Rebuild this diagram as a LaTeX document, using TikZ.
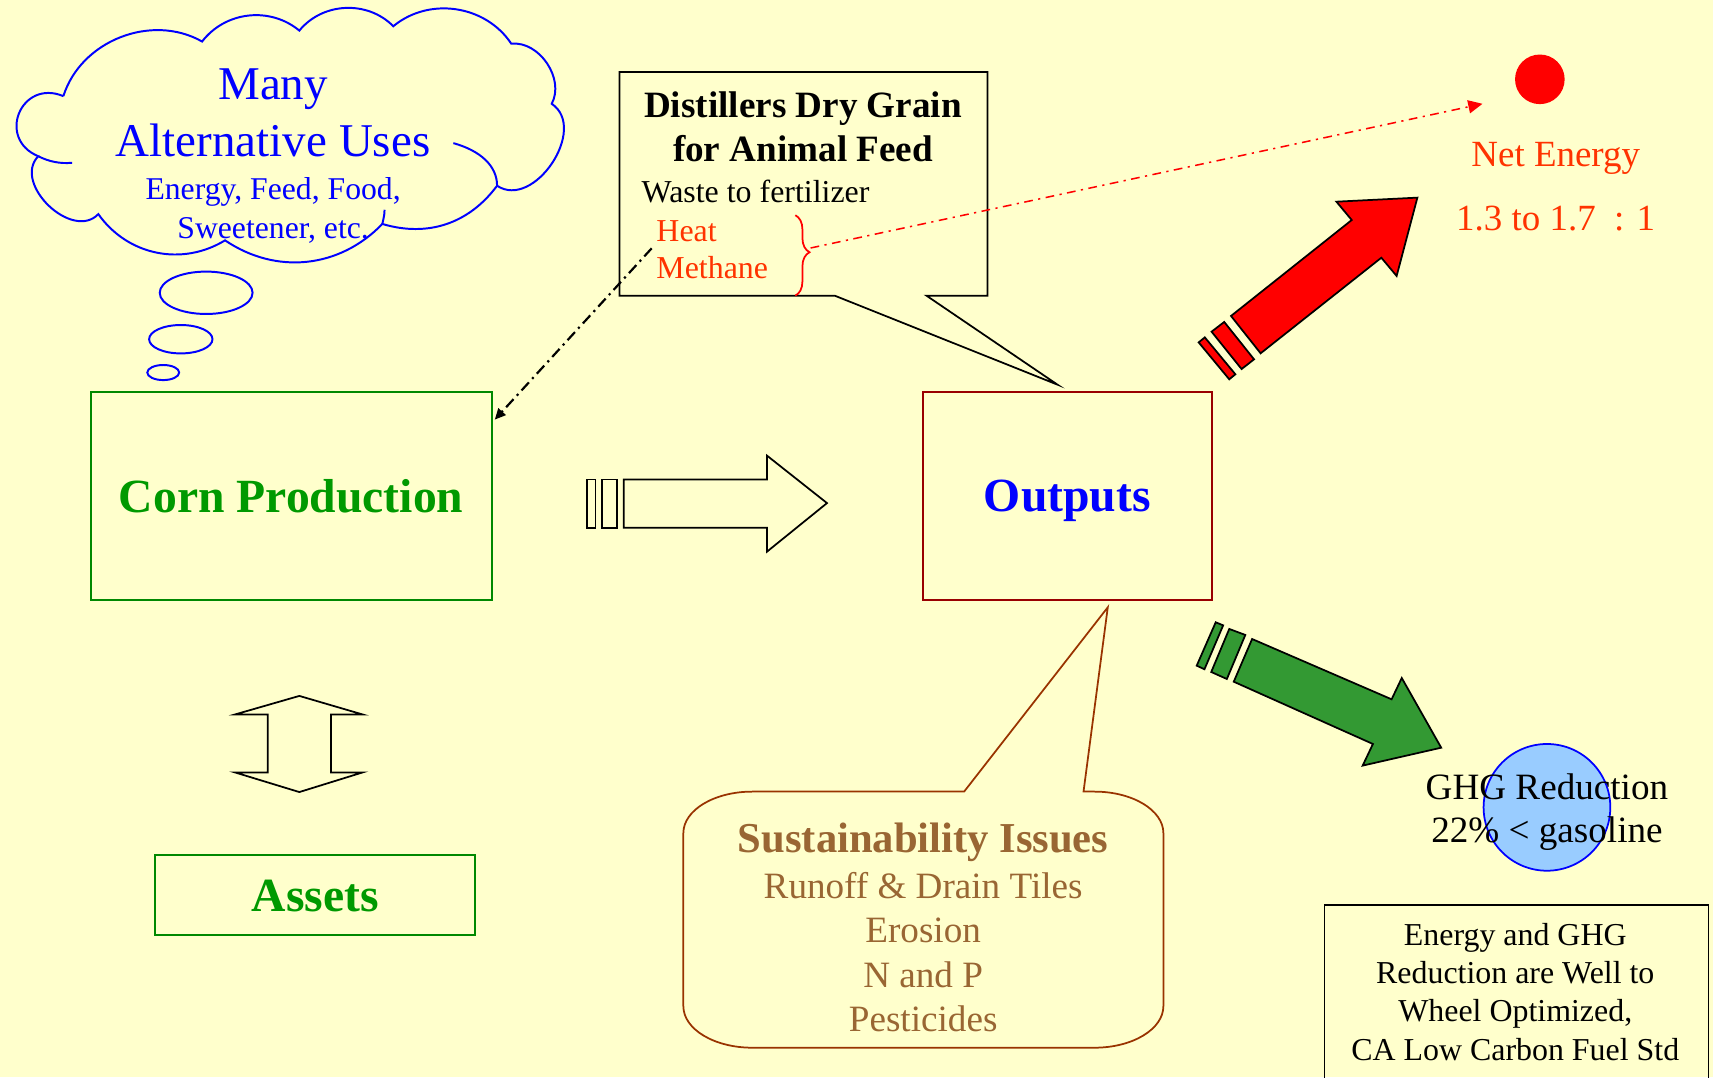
\documentclass[tikz,border=0pt]{standalone}
\usepackage{fontspec}
\setmainfont{Liberation Serif}
\usetikzlibrary{arrows.meta,decorations.pathreplacing}
\definecolor{bg}{HTML}{FFFFCC}
\definecolor{cgreen}{HTML}{009900}
\definecolor{boxgreen}{HTML}{008800}
\definecolor{outred}{HTML}{990000}
\definecolor{orred}{HTML}{FF3300}
\definecolor{arrgreen}{HTML}{339933}
\definecolor{lblue}{HTML}{99CCFF}
\definecolor{sborder}{HTML}{993300}
\definecolor{stext}{HTML}{996633}
\tikzset{
  cloudline/.style={draw=blue, line width=0.9pt},
  txt/.style={inner sep=0pt, anchor=base},
  cloudbig/.style={txt, text=blue, font=\fontsize{21.5}{25}\selectfont},
  cloudsmall/.style={txt, text=blue, font=\fontsize{14.5}{17}\selectfont},
  mainbox/.style={draw, line width=0.9pt, inner sep=0pt, text depth=0pt, font=\fontsize{21.8}{26}\selectfont\bfseries},
  ddgbold/.style={txt, font=\fontsize{17}{20}\selectfont\bfseries},
  ddgtext/.style={txt, anchor=base west, font=\fontsize{14.6}{17}\selectfont},
  netxt/.style={txt, text=orred, font=\fontsize{16.9}{20}\selectfont},
  ghgtxt/.style={txt, font=\fontsize{17}{20}\selectfont},
  wtwtxt/.style={txt, font=\fontsize{14.6}{17}\selectfont},
  susbold/.style={txt, text=stext, font=\fontsize{19.5}{23}\selectfont\bfseries},
  sustxt/.style={txt, text=stext, font=\fontsize{17}{20}\selectfont},
  blockarrow/.style={draw=black, line width=0.8pt, line join=miter},
  dashdotblack/.style={black, line width=1pt, dash pattern=on 5pt off 2.2pt on 1pt off 2.2pt, -{Triangle[length=5pt,width=4.5pt]}},
  dashdotred/.style={red, line width=0.7pt, dash pattern=on 4pt off 2.5pt on 1pt off 2.5pt, -{Triangle[length=6.5pt,width=6pt]}}
}
\begin{document}
\begin{tikzpicture}[x=0.5pt,y=-0.5pt]
\path[use as bounding box, fill=bg] (0,0) rectangle (1568,986);

% ---------- cloud ----------
\draw[cloudline] (58,88) to[bend left=51] (185,38) to[bend left=46] (274,28)
  to[bend left=48] (360,24) to[bend left=48] (468,40) to[bend left=62] (505,95)
  to[bend left=90,looseness=1.15] (455,170) to[bend left=35] (350,205)
  to[bend left=40] (206,220) to[bend left=43] (90,196)
  to[bend left=90,looseness=1.16] (35,143) to[bend left=90,looseness=1.8] (58,88);
\draw[cloudline] (415,131) .. controls (440,138) and (455,152) .. (455,170);
\draw[cloudline] (35,143) .. controls (45,148) and (55,150) .. (66,149);
\draw[cloudline] (350,205) .. controls (351,200) and (352,197) .. (352,192);
\draw[cloudline] (188.7,268) ellipse [x radius=42.5, y radius=19.4];
\draw[cloudline] (165.5,310.5) ellipse [x radius=29, y radius=13];
\draw[cloudline] (149.4,341) ellipse [x radius=14.6, y radius=6.9];

\node[cloudbig] (many) at (250,91) {Many};
\node[cloudbig] (altuses) at (250,143) {Alternative Uses};
\node[cloudsmall] (efood) at (250,183) {Energy, Feed, Food,};
\node[cloudsmall] (sweet) at (250,218) {Sweetener, etc.};

% ---------- main boxes ----------
\node[mainbox, draw=boxgreen, text=cgreen, minimum width=183.5pt, minimum height=95pt] (corn) at (266.5,454) {Corn Production};
\node[mainbox, draw=outred, text=blue, minimum width=132pt, minimum height=95pt] (outputs) at (977,454) {Outputs};
\node[mainbox, draw=boxgreen, text=cgreen, minimum width=146.5pt, minimum height=36.5pt] (assets) at (288.5,819.5) {Assets};

% ---------- hollow arrow corn -> outputs ----------
\draw[blockarrow] (537,439) rectangle (545,483);
\draw[blockarrow] (551,439) rectangle (565,483);
\draw[blockarrow] (571,439) -- (702,439) -- (702,417) -- (757,460.5) -- (702,505) -- (702,483) -- (571,483) -- cycle;

% ---------- vertical double arrow ----------
\draw[blockarrow] (274,637) -- (332,654) -- (303,654) -- (303,707) -- (332,707) -- (274,725)
  -- (215,707) -- (245,707) -- (245,654) -- (215,654) -- cycle;

% ---------- Distillers callout ----------
\coordinate (dtip) at ([xshift=-4.5pt,yshift=3pt]outputs.north);
\draw[line width=0.8pt, line join=miter] (567,66) -- (904,66) -- (904,270.6) -- (848,270.6) -- (dtip) -- (764,270.6) -- (567,270.6) -- cycle;
\node[ddgbold] (ddg1) at (735,108) {Distillers Dry Grain};
\node[ddgbold] (ddg2) at (735,148) {for Animal Feed};
\node[ddgtext] (waste) at (587,185) {Waste to fertilizer};
\node[ddgtext, text=orred] (heat) at (600.5,221) {Heat};
\node[ddgtext, text=orred] (methane) at (600.5,255) {Methane};
\draw[red, line width=0.8pt, decorate, decoration={brace, amplitude=6.5pt, aspect=0.46}] (728,197) -- (728,270.6);
\coordinate (bracetip) at (742,227);
\coordinate (dstart) at (596.5,227.3);
\draw[dashdotblack] (dstart) -- ([xshift=1pt,yshift=-13pt]corn.north east);

% ---------- Net energy ----------
\node[circle, fill=red, minimum size=22.7pt, inner sep=0pt] (dot) at (1409.5,72.6) {};
\coordinate (netarrow) at (1357,95);
\draw[dashdotred] (bracetip) -- (netarrow);
\node[netxt] (netenergy) at (1424,152) {Net Energy};
\node[netxt] (ratio) at (1424,211) {1.3 to 1.7\ \ : 1};

% red arrow
\draw[blockarrow, fill=red] (1126.8,289.2) -- (1237.3,201.4) -- (1223.3,184.6) -- (1297.4,180.9) -- (1278.4,252.6) -- (1264.4,235.9) -- (1153.9,323.4) -- cycle;
\draw[blockarrow, fill=red] (1109.0,303.6) -- (1120.6,294.7) -- (1147.9,328.9) -- (1136.5,337.8) -- cycle;
\draw[blockarrow, fill=red] (1097.2,313.4) -- (1102.8,308.8) -- (1130.8,342.6) -- (1125.2,347.2) -- cycle;

% green arrow
\draw[blockarrow, fill=arrgreen] (1146.1,584.9) -- (1273.8,640.1) -- (1283.1,620.6) -- (1319.2,684.4) -- (1247.3,700.8) -- (1256.7,681.0) -- (1129.3,624.0) -- cycle;
\draw[blockarrow, fill=arrgreen] (1125.2,575.7) -- (1139.9,581.2) -- (1123.0,621.5) -- (1108.7,615.1) -- cycle;
\draw[blockarrow, fill=arrgreen] (1112.8,569.6) -- (1119.6,572.4) -- (1102.5,612.6) -- (1095.4,609.3) -- cycle;

% ---------- GHG ----------
\node[circle, draw=blue, fill=lblue, line width=0.8pt, minimum size=58pt, inner sep=0pt] (ghgcircle) at (1416,739) {};
\node[ghgtxt] (ghg1) at (1416,732) {GHG Reduction};
\node[ghgtxt] (ghg2) at (1416,771) {22\% < gasoline};

\node[draw, line width=0.8pt, anchor=north west, minimum width=175.75pt, minimum height=95pt, inner sep=0pt] (wtwbox) at (1211.5,827.5) {};
\node[wtwtxt] (wtw1) at (1387,865) {Energy and GHG};
\node[wtwtxt] (wtw2) at (1387,900) {Reduction are Well to};
\node[wtwtxt] (wtw3) at (1387,935) {Wheel Optimized,};
\node[wtwtxt] (wtw4) at (1387,971) {CA Low Carbon Fuel Std};

% ---------- Sustainability callout ----------
\coordinate (stip) at ([xshift=18.5pt,yshift=-3pt]outputs.south);
\draw[draw=sborder, line width=0.8pt, line join=miter]
  (688.5,724.6) -- (882.5,724.6) -- (stip) -- (991.8,724.6) -- (1001.9,724.6)
  .. controls (1036.7,724.6) and (1064.9,741.6) .. (1064.9,762.6)
  -- (1064.9,921)
  .. controls (1064.9,942) and (1036.7,959) .. (1001.9,959)
  -- (688.5,959)
  .. controls (653.7,959) and (625.5,942) .. (625.5,921)
  -- (625.5,762.6)
  .. controls (625.5,741.6) and (653.7,724.6) .. (688.5,724.6) -- cycle;
\node[susbold] (sus) at (845,780) {Sustainability Issues};
\node[sustxt] (sus1) at (845,822) {Runoff \& Drain Tiles};
\node[sustxt] (sus2) at (845,863) {Erosion};
\node[sustxt] (sus3) at (845,904) {N and P};
\node[sustxt] (sus4) at (845,944) {Pesticides};
\end{tikzpicture}
\end{document}
